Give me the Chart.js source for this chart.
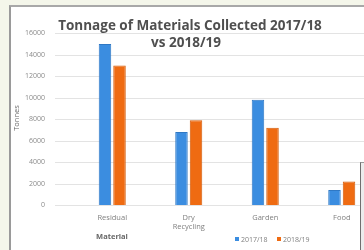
<!DOCTYPE html>
<html>
<head>
<meta charset="utf-8">
<script src="https://cdn.jsdelivr.net/npm/chart.js@4.4.1/dist/chart.umd.min.js"></script>
<style>
  html, body { margin: 0; padding: 0; width: 364px; height: 250px; overflow: hidden; background: #f4f6ea; }
  #frame { position: absolute; left: 9px; top: 5px; width: 360px; height: 250px; background: #fff;
           border-left: 2px solid #9a9a9a; border-top: 2px solid #a8a8a8; }
  #sidebox { position: absolute; left: 360px; top: 162px; width: 10px; height: 90px; background: #ececec;
             border-left: 1px solid #6f6f6f; border-top: 1px solid #9a9a9a; }
  canvas { position: absolute; left: 0; top: 0; }
</style>
</head>
<body>
<div id="frame"></div>
<canvas id="tonnageChart" width="392" height="250"></canvas>
<div id="sidebox"></div>
<script>
const materials = ['Residual', ['Dry', 'Recycling'], 'Garden', 'Food'];
const seriesNames = ['2017/18', '2018/19'];
const tonnes1718 = [15000, 6800, 9800, 1400];
const tonnes1819 = [13000, 7900, 7200, 2200];
const yTicks = [0, 2000, 4000, 6000, 8000, 10000, 12000, 14000, 16000];

const barColors = ['#3b8de0', '#ef6b12'];
const barBorders = ['#2f78c4', '#d45c0a'];

// gridlines start left of the plot, like the excel screenshot
const gridPlugin = {
    id: 'gridPlugin',
    beforeDatasetsDraw(chart) {
        const ctx = chart.ctx;
        const y = chart.scales.y;
        ctx.save();
        ctx.strokeStyle = '#e3e3e3';
        ctx.lineWidth = 1;
        yTicks.forEach(v => {
            const py = Math.round(y.getPixelForValue(v)) + 0.5;
            ctx.beginPath();
            ctx.moveTo(55, py);
            ctx.lineTo(chart.width, py);
            ctx.stroke();
        });
        ctx.restore();
    }
};

const textPlugin = {
    id: 'textPlugin',
    afterDraw(chart) {
        const ctx = chart.ctx;
        ctx.save();
        // title
        ctx.fillStyle = '#4f4f4f';
        ctx.font = 'bold 13.5px "Open Sans", sans-serif';
        ctx.textAlign = 'center';
        ctx.textBaseline = 'middle';
        ctx.fillText('Tonnage of Materials Collected 2017/18', 190, 26);
        ctx.fillText('vs 2018/19', 186, 43);

        // axis titles
        ctx.font = 'bold 7.5px "Open Sans", sans-serif';
        ctx.fillStyle = '#666';
        ctx.fillText('Material', 112, 237);
        ctx.save();
        ctx.translate(17, 118);
        ctx.rotate(-Math.PI / 2);
        ctx.font = '7.5px "Open Sans", sans-serif';
        ctx.fillText('Tonnes', 0, 0);
        ctx.restore();

        // legend
        ctx.font = '7px "Open Sans", sans-serif';
        ctx.textAlign = 'left';
        let lx = 235;
        chart.data.datasets.forEach((ds, i) => {
            ctx.fillStyle = ds.backgroundColor;
            ctx.fillRect(lx, 237, 4, 4);
            ctx.fillStyle = '#808080';
            ctx.fillText(ds.label, lx + 6, 239.5);
            lx += 42;
        });
        ctx.restore();
    }
};

new Chart(document.getElementById('tonnageChart'), {
    type: 'bar',
    data: {
        labels: materials,
        datasets: [
            { label: seriesNames[0], data: tonnes1718, backgroundColor: barColors[0], borderColor: barBorders[0], borderWidth: 1 },
            { label: seriesNames[1], data: tonnes1819, backgroundColor: barColors[1], borderColor: barBorders[1], borderWidth: 1 }
        ]
    },
    options: {
        responsive: false,
        animation: false,
        layout: { padding: { left: 0, top: 31, right: 12, bottom: 0 } },
        datasets: { bar: { categoryPercentage: 0.38, barPercentage: 0.86 } },
        plugins: { legend: { display: false }, title: { display: false }, tooltip: { enabled: false } },
        scales: {
            x: {
                grid: { display: false, drawTicks: false },
                border: { display: false },
                ticks: { color: '#808080', font: { family: 'Open Sans', size: 7.5 }, padding: 8, maxRotation: 0 },
                afterFit(scale) { scale.height = 45; }
            },
            y: {
                min: 0, max: 16000,
                grid: { display: false, drawTicks: false },
                border: { display: false },
                afterBuildTicks(scale) { scale.ticks = yTicks.map(v => ({ value: v })); },
                ticks: {
                    color: '#8a8a8a', font: { family: 'Open Sans', size: 7 }, padding: 29,
                    callback: (value) => String(value)
                },
                afterFit(scale) { scale.width = 74; }
            }
        }
    },
    plugins: [gridPlugin, textPlugin]
});
</script>
</body>
</html>
